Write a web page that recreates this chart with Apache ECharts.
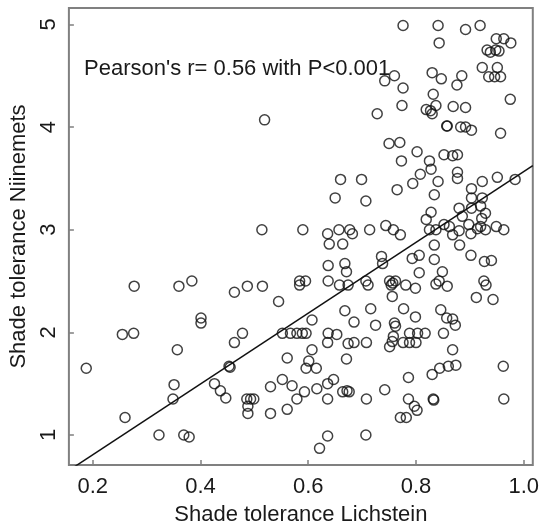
<!DOCTYPE html>
<html>
<head>
<meta charset="utf-8">
<script src="https://cdn.jsdelivr.net/npm/echarts@6/dist/echarts.min.js"></script>
<style>html,body{margin:0;padding:0;background:#fff;}#c{width:542px;height:531px;}</style>
</head>
<body>
<div id="c"></div>
<script>
// Shade tolerance Lichstein (x) and Niinemets (y)
const xLichstein = [
0.519,0.514,
0.776,0.841,0.892,0.919,0.843,0.949,0.963,0.976,0.932,0.938,0.948,0.954,0.923,0.951,0.935,0.946,0.957,
0.830,0.847,0.885,0.876,0.760,0.742,0.776,0.975,0.832,0.774,0.728,0.819,0.827,0.830,0.837,0.869,0.892,
0.857,0.858,0.883,0.892,0.903,0.957,0.750,0.770,0.802,0.852,0.868,0.877,
0.773,0.825,0.828,0.808,0.794,0.877,0.877,0.951,0.984,0.923,0.841,0.660,0.699,0.765,0.834,0.650,0.707,
0.903,0.903,0.923,0.880,0.903,0.920,0.929,0.828,0.819,0.886,0.922,
0.590,0.636,0.657,0.677,0.682,0.714,0.744,0.758,0.771,0.825,0.837,0.852,0.862,0.868,0.880,0.898,0.902,
0.914,0.920,0.929,0.949,0.963,
0.639,0.664,0.834,0.881,0.902,0.927,0.940,0.736,0.738,0.793,0.806,0.834,0.637,0.668,0.671,0.806,0.849,
0.584,0.595,0.584,0.637,0.658,0.674,0.707,0.711,0.751,0.757,0.762,0.754,0.781,0.799,0.837,0.843,0.858,
0.926,0.930,0.756,0.912,0.943,
0.668,0.716,0.777,0.846,0.607,0.685,0.725,0.760,0.762,0.799,0.857,0.868,0.873,0.851,
0.579,0.589,0.596,0.637,0.653,0.636,0.674,0.685,0.708,0.758,0.756,0.751,0.776,0.788,0.800,0.788,0.803,0.817,
0.607,0.601,0.596,0.615,0.671,0.868,0.830,0.844,0.860,0.874,0.962,0.786,0.647,0.636,0.616,0.593,0.579,
0.636,0.664,0.672,0.676,0.708,0.742,0.786,0.797,0.802,0.832,0.833,0.963,0.771,0.782,0.636,0.707,0.621,
0.277,0.360,0.384,0.463,0.487,0.515,0.545,0.401,0.401,0.255,0.276,0.478,0.463,0.357,0.552,0.567,0.561,
0.188,0.453,0.455,0.351,0.349,0.426,0.437,0.447,0.486,0.493,0.499,0.488,0.488,0.530,0.552,0.570,0.530,
0.561,0.260,0.323,0.369,0.379
];
const yNiinemets = [
4.07,3.00,
4.99,4.99,4.95,4.99,4.82,4.86,4.86,4.82,4.75,4.73,4.75,4.74,4.58,4.58,4.49,4.49,4.49,
4.53,4.47,4.50,4.41,4.50,4.45,4.38,4.27,4.32,4.21,4.13,4.17,4.16,4.13,4.21,4.20,4.19,
4.01,4.01,4.00,4.00,3.97,3.94,3.84,3.85,3.76,3.73,3.72,3.73,
3.67,3.67,3.59,3.54,3.45,3.56,3.50,3.51,3.49,3.47,3.47,3.49,3.49,3.39,3.34,3.31,3.28,
3.40,3.31,3.31,3.21,3.21,3.23,3.16,3.17,3.10,3.13,3.11,
3.00,2.96,3.00,3.00,2.96,3.00,3.04,3.00,2.95,3.00,3.00,3.05,3.03,2.95,2.99,3.05,2.96,
3.01,3.03,3.00,3.03,3.00,
2.86,2.86,2.85,2.85,2.75,2.69,2.70,2.74,2.67,2.72,2.75,2.71,2.65,2.67,2.59,2.58,2.59,
2.50,2.50,2.46,2.50,2.46,2.46,2.50,2.46,2.50,2.48,2.50,2.46,2.46,2.43,2.47,2.50,2.45,
2.50,2.46,2.35,2.34,2.32,
2.21,2.23,2.23,2.22,2.12,2.10,2.07,2.09,2.06,2.15,2.14,2.13,2.07,1.99,
1.99,1.99,1.99,1.99,1.98,1.90,1.89,1.90,1.90,1.96,1.91,1.86,1.90,1.90,1.90,1.99,1.99,1.99,
1.83,1.72,1.65,1.65,1.74,1.83,1.59,1.65,1.67,1.68,1.67,1.56,1.54,1.50,1.45,1.42,1.35,
1.35,1.42,1.43,1.42,1.35,1.44,1.35,1.28,1.24,1.35,1.34,1.35,1.17,1.17,0.99,1.00,0.87,
2.45,2.45,2.50,2.39,2.45,2.45,2.30,2.14,2.09,1.98,1.99,1.99,1.90,1.83,1.99,1.99,1.75,
1.65,1.67,1.66,1.49,1.35,1.50,1.43,1.36,1.35,1.35,1.35,1.28,1.21,1.47,1.54,1.48,1.21,
1.25,1.17,1.00,1.00,0.98
];
const xTicks = [0.2, 0.4, 0.6, 0.8, 1.0];
const yTicks = [1, 2, 3, 4, 5];
const xRange = [0.1558, 1.0168];
const yRange = [0.7074, 5.160];
const fitIntercept = 0.117;
const fitSlope = 3.449;
const annotation = "Pearson's r= 0.56 with P<0.001";
const xTitle = "Shade tolerance Lichstein";
const yTitle = "Shade tolerance Niinemets";

const points = xLichstein.map((x, i) => [x, yNiinemets[i]]);
const fitLine = xRange.map(x => [x, fitIntercept + fitSlope * x]);

const FONT = "'Liberation Sans', Arial, sans-serif";
const chart = echarts.init(document.getElementById('c'), null, {renderer: 'canvas'});
chart.setOption({
  animation: false,
  backgroundColor: '#fff',
  grid: {left: 67, top: 8, width: 467, height: 465, show: true,
         borderColor: '#808080', borderWidth: 2, backgroundColor: 'transparent'},
  xAxis: {
    type: 'value', min: xRange[0], max: xRange[1],
    axisLine: {show: false}, splitLine: {show: false},
    axisTick: {show: true, inside: true, length: 5, customValues: xTicks,
               lineStyle: {color: '#808080', width: 1.5}},
    axisLabel: {customValues: xTicks, formatter: v => v.toFixed(1), fontSize: 22,
                color: '#1a1a1a', margin: 11, fontFamily: FONT},
    name: xTitle, nameLocation: 'middle', nameGap: 39,
    nameTextStyle: {fontSize: 22, color: '#1a1a1a', fontFamily: FONT}
  },
  yAxis: {
    type: 'value', min: yRange[0], max: yRange[1],
    axisLine: {show: false}, splitLine: {show: false},
    axisTick: {show: true, inside: true, length: 5, customValues: yTicks,
               lineStyle: {color: '#808080', width: 1.5}},
    axisLabel: {customValues: yTicks, formatter: v => String(v), rotate: 90, fontSize: 22,
                color: '#1a1a1a', margin: 9, fontFamily: FONT},
    name: yTitle, nameLocation: 'middle', nameGap: 37, nameRotate: 90,
    nameTextStyle: {fontSize: 22, color: '#1a1a1a', fontFamily: FONT}
  },
  graphic: [{
    type: 'text', left: 84, top: 58,
    style: {text: annotation, fontSize: 22, fill: '#1a1a1a', font: "22px 'Liberation Sans', Arial, sans-serif"}
  }],
  series: [
    {type: 'scatter', data: points, symbol: 'circle', symbolSize: 10,
     itemStyle: {color: 'rgba(0,0,0,0)', borderColor: '#111', borderWidth: 1.5}},
    {type: 'line', data: fitLine, showSymbol: false, clip: true,
     lineStyle: {color: '#111', width: 1.5}}
  ]
});
</script>
</body>
</html>
